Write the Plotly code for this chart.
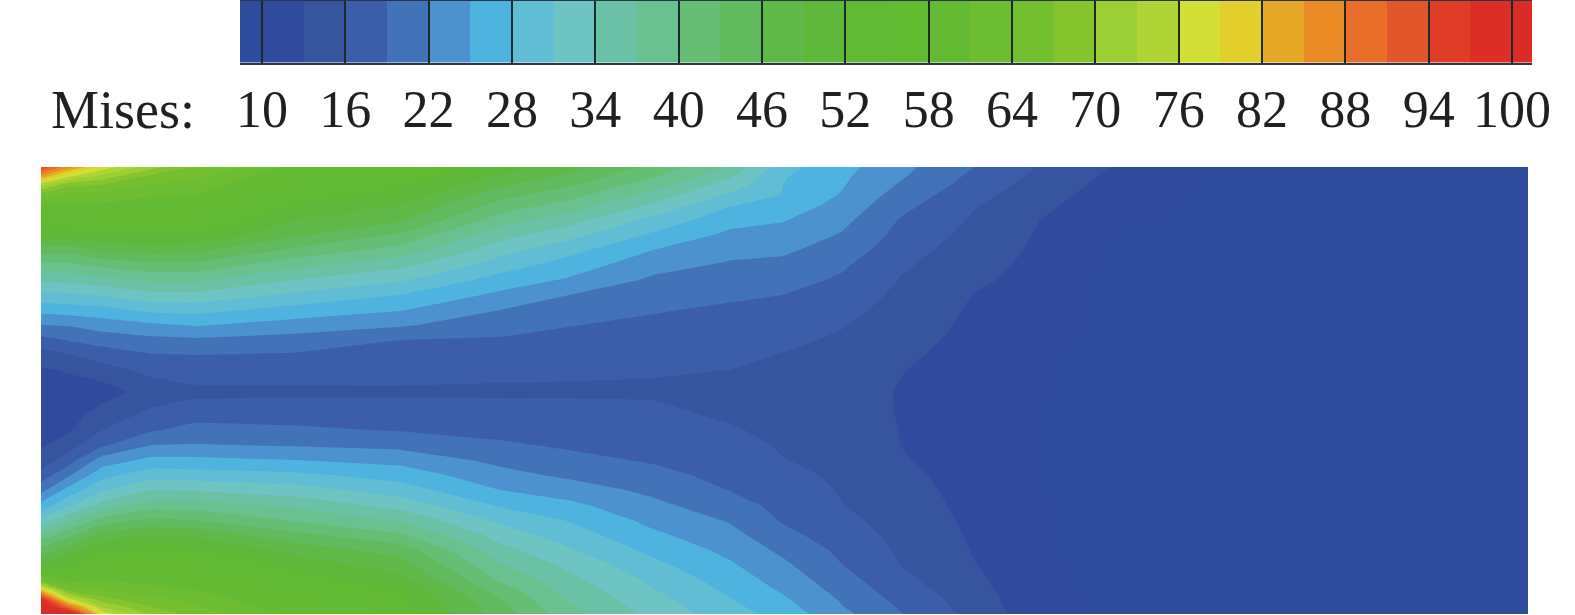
import plotly.graph_objects as go

# Mises field: y positions (rows) and x positions (columns) of the samples
y_pos = [167,176,185,195,205,220,235,250,265,280,295,310,325,340,355,370,383,392,400,415,430,445,460,475,490,505,520,535,550,565,580,590,600,607,614]
x_pos = [41,68,102,152,195,295,400,500,569,653,730,783,841,902,975,1040,1110,1200,1528]

col_41  = [94,85,74,65,61,55.6,51,44.5,39,34.6,30,26,22,18,14.6,12.6,11.9,11.4,11.2,11.3,12,12.6,14.2,17.2,21,26,32,38,44,50,64,82,100,104,108]
col_68  = [86,77,68,63,60.5,55.6,51,44,39.4,35,30.5,26.4,22.2,19.2,15.8,13.3,12.2,11.7,11.5,11.7,12.6,14.5,17.5,21.4,26,30.4,36,42,47.5,52,59.3,66,78,90,105]
col_102 = [78,72,67,62.8,60.5,56.2,51.7,46.4,40.8,35.8,31.3,27,23.4,20.3,17.3,14.8,12.8,11.9,12.6,14.3,16,18.5,23.3,27,30.5,35,41.3,47,52,56.3,61,64,68.5,73,78]
col_152 = [71,66.3,63.6,61.4,59.4,56.2,52.3,47.3,42.1,37.6,33.1,28.8,24.5,21.2,18.8,17,15.2,14,15.1,16.9,18.7,22,25.8,29.8,34,38.5,43.7,49,53.2,56.5,59.8,62.2,65,67,69]
col_195 = [67,65,63,61.2,59.3,56,52,46.8,42.1,37.6,33.2,29,25.3,21.5,19,17.5,16.3,14.8,16.2,18,20,22.2,25.7,29.4,33.7,38.5,43,48.3,52.7,56,59,61,63,64.4,66]
col_295 = [60,57.8,56,54,52,49,46.5,42.4,37.9,34,30.3,26.9,23.7,20.8,18.7,17.5,16.3,15.2,16.5,17.9,19.5,21.7,25,28.7,32.3,36.2,39.6,43.9,47.8,51,54,56,58,59,60]
col_400 = [56,54.3,52.8,51,49,46.5,42.5,38.8,34.8,31.4,28,25.2,22.4,19,18,17,16.3,15.3,16.4,17.6,18.8,21.1,24,26.7,29.5,32.8,36.5,40.5,44.8,47.3,50,52,52.8,53.4,54]
col_500 = [50.5,48.4,46.4,44.2,41.9,38.5,35.2,32.2,29.5,26.8,24.3,22,20.2,18.7,17.8,16.8,16,15.3,16.2,17.2,18.2,19.4,21.2,23,25,27.6,30.2,32.7,35,37.3,39.6,41.5,43.3,43.9,44.5]
col_569 = [47.5,45.4,43.4,41.2,38.8,35.3,32,29,26.7,24.6,22,20.6,19.1,18.3,17.5,16.7,15.9,15.4,16.2,17,17.8,18.6,19.8,21.4,23.5,25.7,27.8,29.5,31.3,33.3,34.9,35.8,36.7,37.4,38]
col_653 = [42,40.4,38.3,35.8,33.5,30.1,27.5,25,23,21.5,20.4,19.2,18.5,17.8,17.2,16.5,15.7,15.2,16,16.7,17.4,18,18.7,19.8,21.3,22.7,24.1,25.6,27.2,28.8,30.3,31.2,32,32.5,33]
col_730 = [37,34.5,32.6,30.5,28.2,26.1,24.3,22.9,21.6,20.5,19.4,18.6,17.9,17.3,16.6,16,15.1,14.6,15,15.6,16.3,17,17.6,18.2,18.9,20.2,21.7,23,24.2,25.4,26.6,27.4,28.2,28.8,29.5]
col_783 = [29,28.3,28,27.9,26.9,25.2,23.8,22.5,21.3,20.1,19,17.9,17.4,16.6,15.9,15.3,14.9,14.2,14.4,14.7,15.2,15.7,16.1,16.8,17.5,18.1,18.7,19.8,21.3,22.6,23.8,24.6,25.5,26.1,26.8]
col_841 = [26,25.6,25.3,24.8,24,22.9,21.8,20.7,19.5,18.6,17.8,17,16.2,15.6,15.2,14.7,14.3,14.1,14.1,14.4,14.7,14.9,15.1,15.5,15.8,16.1,16.8,17.6,18.4,19.1,20.2,21,21.8,22.2,22.8]
col_902 = [22.8,22.3,21.6,20.7,19.9,18.7,18,17.2,16.4,15.8,15.3,14.8,14.4,13.9,13.5,13.1,12.9,12.8,12.8,12.8,12.9,12.95,13.2,13.6,14,14.3,14.7,15.1,15.5,15.9,16.7,17.4,18.1,18.6,19.1]
col_975 = [19,18.3,17.7,16.9,16.2,15.6,15,14.5,14,13.5,12.9,12.6,12.4,12.2,11.9,11.7,11.5,11.4,11.3,11.4,11.5,11.6,11.7,11.9,12,12.2,12.4,12.6,12.8,13.1,13.7,14.1,14.5,14.7,15]
col_1040 = [15.8,15.3,14.8,14.3,13.8,13,12.7,12.5,12.2,12,11.7,11.4,11.1,10.6,10.3,10.15,10.05,10,9.95,9.9,9.9,9.9,9.9,9.95,10,10.02,10.06,10.1,10.15,10.25,10.4,10.5,10.7,10.85,11]
col_1110 = [13,12.5,12.1,11.6,11,10.3,9.7,9.4,9.2,9,8.9,8.9,8.9,9,9,9,9,9,9,9,9,9,9,9,9,9,9,9,9,9,9.1,9.2,9.2,9.3,9.3]
col_1200 = [9.8,9.7,9.6,9.4,9.3,9.1,9,8.9,8.9,8.9,8.8,8.8,8.8,8.8,8.8,8.8,8.8,8.8,8.8,8.8,8.8,8.8,8.8,8.8,8.8,8.8,8.8,8.8,8.8,8.8,8.8,8.8,8.8,8.8,8.8]
col_1528 = [8.8,8.8,8.8,8.8,8.8,8.8,8.8,8.8,8.8,8.8,8.8,8.8,8.8,8.8,8.8,8.8,8.8,8.8,8.8,8.8,8.8,8.8,8.8,8.8,8.8,8.8,8.8,8.8,8.8,8.8,8.8,8.8,8.8,8.8,8.8]

columns = [col_41,col_68,col_102,col_152,col_195,col_295,col_400,col_500,col_569,col_653,col_730,col_783,col_841,col_902,col_975,col_1040,col_1110,col_1200,col_1528]
z_field = [list(r) for r in zip(*columns)]

# legend bands (one colour per 3 units)
band_colors = ["#2f4b9c","#304b9e","#37549f","#3c5daa","#4272b8","#4c92cf","#4fb3e0","#60bdd4",
               "#6dc4c3","#6bc1a6","#69c18f","#66bd74","#62ba5e","#5fb848","#5fb83a","#62b933",
               "#63ba33","#64ba32","#6dbd33","#74bf30","#86c42e","#9ccf35","#b0d436","#d2df36",
               "#e3cf2c","#e6a927","#eb8b25","#e96e29","#e3552b","#df3d28","#dc2e27","#da2b27"]
band_edges = [8.42] + list(range(10, 101, 3)) + [101.44]
band_mids = [8.5 + 3*i for i in range(len(band_colors))]
tick_vals = [10,16,22,28,34,40,46,52,58,64,70,76,82,88,94,100]
title_text = "Mises:"

W, H = 1575, 615
scale = [[i/(len(band_colors)-1), c] for i, c in enumerate(band_colors)]
serif = "Liberation Serif"

fig = go.Figure()
fig.add_trace(go.Contour(
    x=x_pos, y=y_pos, z=z_field, colorscale=scale, showscale=False,
    autocontour=False, contours=dict(start=10, end=100, size=3, coloring="fill", showlines=False),
    line=dict(width=0, smoothing=0), hoverinfo="skip", xaxis="x", yaxis="y"))
fig.add_trace(go.Heatmap(
    x=band_edges, y=[0, 1], z=[band_mids], colorscale=scale, zmin=8.5, zmax=101.5,
    showscale=False, hoverinfo="skip", xaxis="x2", yaxis="y2"))

fig.update_layout(
    template="none",
    width=W, height=H, margin=dict(l=0, r=0, t=0, b=0, pad=0),
    paper_bgcolor="white", plot_bgcolor="white", showlegend=False,
    xaxis=dict(domain=[41/W, 1528/W], range=[41, 1528], visible=False, automargin=False),
    yaxis=dict(domain=[1-614/H, 1-167/H], range=[614, 167], visible=False, automargin=False),
    xaxis2=dict(domain=[240/W, 1532/W], range=[8.42, 101.44], anchor="y2", automargin=False,
                tickmode="array", tickvals=tick_vals, ticktext=[str(v) for v in tick_vals],
                ticks="inside", ticklen=62, tickwidth=1.5, tickcolor="#1d2a2a",
                showgrid=False, zeroline=False, showline=True, mirror=True,
                linecolor="#2a3545", linewidth=1.5, ticklabelstandoff=0,
                tickfont=dict(family=serif, size=52, color="#231f20"), tickangle=0),
    yaxis2=dict(domain=[1-62.5/H, 1-1/H], range=[0, 1], anchor="x2", visible=False, automargin=False),
    annotations=[dict(text=title_text, xref="paper", yref="paper", x=49/W, y=1-110/H,
                      xanchor="left", yanchor="middle", showarrow=False,
                      font=dict(family=serif, size=54, color="#231f20"))],
)
fig.write_html("out.html", config={"displayModeBar": False}, post_script="document.body.style.margin='0';")
